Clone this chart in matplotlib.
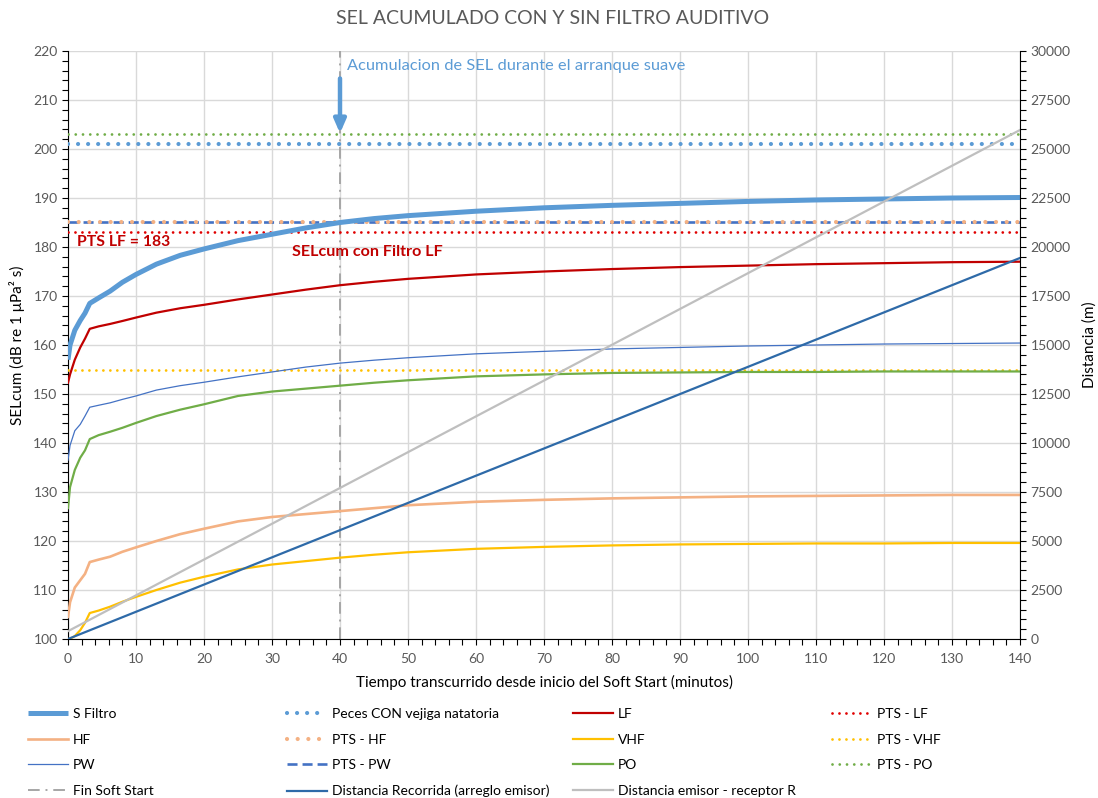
import matplotlib
matplotlib.use("Agg")
import matplotlib.pyplot as plt
from matplotlib.ticker import MultipleLocator

plt.rcParams['font.family'] = ['Lato', 'DejaVu Sans']

# ---------------- data ----------------
t = [0, 0.3, 1, 1.8, 2.5, 3.2, 4.5, 6.2, 8, 10, 13, 16.5, 20, 25, 30, 35, 40,
     45, 50, 60, 70, 80, 90, 100, 110, 120, 130, 140]
s_filtro = [157, 160, 163, 165, 166.5, 168.5, 169.6, 171, 172.8, 174.4, 176.5, 178.3,
            179.6, 181.3, 182.6, 183.9, 185, 185.8, 186.4, 187.3, 188, 188.5, 188.9,
            189.3, 189.6, 189.8, 190, 190.1]
lf = [152.3, 154, 157, 159.5, 161.3, 163.3, 163.8, 164.3, 164.9, 165.6, 166.6, 167.5,
      168.2, 169.3, 170.3, 171.3, 172.2, 172.9, 173.5, 174.4, 175, 175.5, 175.9,
      176.2, 176.5, 176.7, 176.9, 177]
hf = [104.5, 107.5, 110.5, 112, 113.3, 115.7, 116.2, 116.8, 117.8, 118.7, 120, 121.4,
      122.5, 124, 124.9, 125.5, 126.1, 126.7, 127.3, 128, 128.4, 128.7, 128.9,
      129.1, 129.2, 129.3, 129.4, 129.4]
vhf = [100, 100, 100.6, 101.8, 103.3, 105.3, 105.8, 106.6, 107.6, 108.6, 110, 111.5,
       112.7, 114.2, 115.2, 115.9, 116.6, 117.2, 117.7, 118.4, 118.8, 119.1, 119.3,
       119.4, 119.5, 119.5, 119.6, 119.6]
pw = [136.5, 139.5, 142.5, 143.8, 145.5, 147.3, 147.7, 148.2, 148.9, 149.6, 150.8, 151.7,
      152.4, 153.5, 154.5, 155.5, 156.3, 156.9, 157.4, 158.2, 158.7, 159.2, 159.5,
      159.8, 160, 160.2, 160.3, 160.4]
po = [126.7, 131, 134.5, 137, 138.5, 140.8, 141.6, 142.3, 143.1, 144.1, 145.5, 146.8,
      147.9, 149.6, 150.5, 151.1, 151.7, 152.3, 152.8, 153.6, 154, 154.3, 154.4,
      154.5, 154.5, 154.6, 154.6, 154.6]

t_limits = [0, 140]
pts_peces = 201
pts_lf = 183
pts_hf = 185
pts_vhf = 155
pts_pw = 185
pts_po = 203
fin_soft_start = 40

t_dist = [0, 140]
dist_recorrida = [0, 19440]
dist_receptor = [400, 25970]

title = "SEL ACUMULADO CON Y SIN FILTRO AUDITIVO"
xlabel = "Tiempo transcurrido desde inicio del Soft Start (minutos)"
ylabel = "SELcum (dB re 1 μPa² s)"
ylabel2 = "Distancia (m)"

# ---------------- figure ----------------
W, H = 1098, 798
fig = plt.figure(figsize=(W / 100, H / 100), dpi=100)
ax = fig.add_axes([68 / W, 1 - 639 / H, (1020 - 68) / W, (639 - 51) / H])
ax2 = ax.twinx()

TXT = '#595959'
C_BLUE = '#5B9BD5'
C_RED = '#C00000'
C_ORANGE = '#F4B183'
C_YEL = '#FFC000'
C_PW = '#4472C4'
C_GREEN = '#70AD47'
C_DARK = '#2E6AA8'
C_GRAY = '#BFBFBF'

h = {}
h['S Filtro'], = ax.plot(t, s_filtro, color=C_BLUE, lw=3.6, solid_capstyle='butt', zorder=5)
h['Peces CON vejiga natatoria'], = ax.plot(t_limits, [pts_peces] * 2, color=C_BLUE, lw=3.0,
                                           linestyle=(0, (0.01, 2.4)), dash_capstyle='round', zorder=3)
h['LF'], = ax.plot(t, lf, color=C_RED, lw=1.6, zorder=4)
h['PTS - LF'], = ax.plot(t_limits, [pts_lf] * 2, color='#E00000', lw=2.0,
                         linestyle=(0, (0.01, 2.5)), dash_capstyle='round', zorder=3)
h['HF'], = ax.plot(t, hf, color=C_ORANGE, lw=1.9, zorder=4)
h['PTS - HF'], = ax.plot(t_limits, [pts_hf] * 2, color=C_ORANGE, lw=3.0,
                         linestyle=(0, (0.01, 2.55)), dash_capstyle='round', zorder=3.2)
h['VHF'], = ax.plot(t, vhf, color=C_YEL, lw=1.6, zorder=4)
h['PTS - VHF'], = ax.plot(t_limits, [pts_vhf] * 2, color=C_YEL, lw=2.0,
                          linestyle=(0, (0.01, 2.5)), dash_capstyle='round', zorder=3)
h['PW'], = ax.plot(t, pw, color=C_PW, lw=0.9, zorder=4)
h['PTS - PW'], = ax.plot(t_limits, [pts_pw] * 2, color=C_PW, lw=1.9,
                         linestyle=(0, (3.8, 1.9)), zorder=3.1)
h['PO'], = ax.plot(t, po, color=C_GREEN, lw=1.6, zorder=4)
h['PTS - PO'], = ax.plot(t_limits, [pts_po] * 2, color=C_GREEN, lw=2.0,
                         linestyle=(0, (0.01, 2.6)), dash_capstyle='round', zorder=3)
h['Fin Soft Start'] = ax.axvline(fin_soft_start, color='#A6A6A6', lw=1.4,
                                 linestyle=(0, (6, 3, 1, 3)), zorder=2)

h['Distancia Recorrida (arreglo emisor)'], = ax2.plot(t_dist, dist_recorrida, color=C_DARK, lw=1.6)
h['Distancia emisor - receptor R'], = ax2.plot(t_dist, dist_receptor, color=C_GRAY, lw=1.6)

# axes formatting
ax.set_xlim(0, 140)
ax.set_ylim(100, 220)
ax2.set_ylim(0, 30000)
ax.xaxis.set_major_locator(MultipleLocator(10))
ax.xaxis.set_minor_locator(MultipleLocator(2))
ax.yaxis.set_major_locator(MultipleLocator(10))
ax.yaxis.set_minor_locator(MultipleLocator(2))
ax2.yaxis.set_major_locator(MultipleLocator(2500))
ax2.yaxis.set_minor_locator(MultipleLocator(500))
ax.grid(True, which='major', color='#D9D9D9', lw=1.0, zorder=0)
ax.set_axisbelow(True)

for a in (ax, ax2):
    a.spines['top'].set_visible(False)
ax.spines['right'].set_visible(False)
ax2.spines['left'].set_visible(False)
ax2.spines['bottom'].set_visible(False)
ax.spines['left'].set_color('black')
ax.spines['bottom'].set_color('black')
ax2.spines['right'].set_color('black')

ax.tick_params(axis='both', which='major', direction='out', length=4, width=0.8,
               color='black', labelcolor=TXT, labelsize=10)
ax.tick_params(axis='both', which='minor', direction='out', length=4, width=0.8, color='black')
ax.tick_params(axis='x', pad=6)
ax2.tick_params(axis='y', which='major', direction='out', length=4, width=0.8,
                color='black', labelcolor=TXT, labelsize=10)
ax2.tick_params(axis='y', which='minor', direction='out', length=4, width=0.8, color='black')

ax.set_xlabel(xlabel, fontsize=11, color='black', labelpad=7)
ax.set_ylabel(ylabel, fontsize=11, color='black', labelpad=6)
ax2.set_ylabel(ylabel2, fontsize=11, color='black', labelpad=8)

fig.text(553 / W, 1 - 18 / H, title, ha='center', va='center', fontsize=14,
         color=TXT, fontweight='normal')

# annotations
ax.annotate('', xy=(40, 203.2), xytext=(40, 214.4),
            arrowprops=dict(arrowstyle='-|>,head_width=0.35,head_length=0.8',
                            color=C_BLUE, lw=3.2, shrinkA=0, shrinkB=0), zorder=6)
ax.text(41.0, 217.0, "Acumulacion de SEL durante el arranque suave", color=C_BLUE,
        fontsize=11.8, ha='left', va='center')
ax.text(1.3, 181.0, "PTS LF = 183", color=C_RED, fontsize=11.3, fontweight='bold',
        ha='left', va='center')
ax.text(33.0, 179.0, "SELcum con Filtro LF", color=C_RED, fontsize=11.6, fontweight='bold',
        ha='left', va='center')

# legend: 4 columns placed manually
cols = [
    ['S Filtro', 'HF', 'PW', 'Fin Soft Start'],
    ['Peces CON vejiga natatoria', 'PTS - HF', 'PTS - PW', 'Distancia Recorrida (arreglo emisor)'],
    ['LF', 'VHF', 'PO', 'Distancia emisor - receptor R'],
    ['PTS - LF', 'PTS - VHF', 'PTS - PO'],
]
col_x = [28, 287, 573, 832]
for cx, names in zip(col_x, cols):
    leg = fig.legend([h[n] for n in names], names, loc='upper left',
                     bbox_to_anchor=(cx / W, 1 - 708 / H), frameon=False,
                     fontsize=10, handlelength=2.9, handletextpad=0.35,
                     labelspacing=0.98, borderaxespad=0, borderpad=0)
    for txt in leg.get_texts():
        txt.set_color('black')

fig.savefig('out.png', dpi=100)
